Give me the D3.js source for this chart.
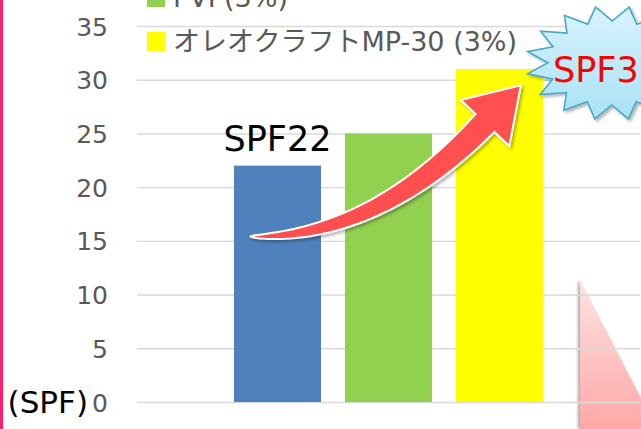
<!DOCTYPE html>
<html>
<head>
<meta charset="utf-8">
<script src="https://cdn.jsdelivr.net/npm/d3@7"></script>
<style>
  html, body { margin: 0; padding: 0; background: #ffffff; }
  svg { display: block; }
  text { font-family: "DejaVu Sans", "Noto Sans CJK JP", sans-serif; }
</style>
</head>
<body>
<div id="chart"></div>
<script>
// ---- data ----
const category = ["SPF"];
const series = ["ブランク", "PVP(3%)", "オレオクラフトMP-30 (3%)"];
const spfValues = [22, 25, 31];
const yTicks = [0, 5, 10, 15, 20, 25, 30, 35];

const barColors = ["#4f81bd", "#92d050", "#ffff00"];

const width = 641, height = 429;
const plot = { left: 137, right: 640, top: 26, bottom: 402 };

const svg = d3.select("#chart").append("svg")
    .attr("width", width)
    .attr("height", height);

const defs = svg.append("defs");

// soft shadows for the drawn shapes
const shadow = defs.append("filter").attr("id", "shadow")
    .attr("x", "-20%").attr("y", "-20%").attr("width", "140%").attr("height", "140%");
shadow.append("feDropShadow")
    .attr("dx", 2).attr("dy", 2).attr("stdDeviation", 1.8)
    .attr("flood-color", "#000").attr("flood-opacity", 0.3);

const leftShadow = defs.append("filter").attr("id", "leftShadow")
    .attr("x", "-30%").attr("y", "-10%").attr("width", "160%").attr("height", "120%");
leftShadow.append("feDropShadow")
    .attr("dx", -2).attr("dy", 0).attr("stdDeviation", 1.5)
    .attr("flood-color", "#000").attr("flood-opacity", 0.35);

const pinkGrad = defs.append("linearGradient").attr("id", "pinkGrad")
    .attr("x1", 0).attr("y1", 0).attr("x2", 0).attr("y2", 1);
pinkGrad.append("stop").attr("offset", "0%").attr("stop-color", "#ffe2e2");
pinkGrad.append("stop").attr("offset", "100%").attr("stop-color", "#ffa8a8");

const starGrad = defs.append("linearGradient").attr("id", "starGrad")
    .attr("x1", 0).attr("y1", 0).attr("x2", 0).attr("y2", 1);
starGrad.append("stop").attr("offset", "0%").attr("stop-color", "#d8f3fd");
starGrad.append("stop").attr("offset", "100%").attr("stop-color", "#a9e2f6");

// ---- scales ----
const y = d3.scaleLinear().domain([0, 35]).range([plot.bottom, plot.top]);

const x0 = d3.scaleBand().domain(category)
    .range([plot.left, plot.right])
    .paddingInner(0).paddingOuter(0.255);

const x1 = d3.scaleBand().domain(series)
    .range([x0(category[0]), x0(category[0]) + x0.bandwidth()])
    .paddingInner(0.216).paddingOuter(0.108);

// ---- pink wedge in the bottom right (behind the grid) ----
svg.append("path")
    .attr("d", "M580,280 L657,429 L580,429 Z")
    .attr("fill", "url(#pinkGrad)")
    .attr("filter", "url(#leftShadow)");

// ---- grid + y axis ----
const yAxis = d3.axisLeft(y)
    .tickValues(yTicks)
    .tickSize(-(plot.right - plot.left))
    .tickPadding(29);

const axisG = svg.append("g")
    .attr("transform", `translate(${plot.left},0)`)
    .call(yAxis);
axisG.select(".domain").remove();
axisG.selectAll(".tick line")
    .attr("stroke", "#d9d9d9")
    .attr("stroke-width", 1.4);
axisG.selectAll(".tick text")
    .attr("fill", "#595959")
    .style("font-size", "25px")
    .attr("dy", "0.36em");

// unit label next to zero
svg.append("text")
    .attr("x", 88)
    .attr("y", y(0))
    .attr("dy", "0.36em")
    .attr("text-anchor", "end")
    .attr("fill", "#000")
    .style("font-size", "31px")
    .text("(SPF)");

// ---- bars ----
const barData = series.map((s, i) => ({ name: s, value: spfValues[i], color: barColors[i] }));

svg.append("g").selectAll("rect")
    .data(barData)
    .join("rect")
    .attr("x", d => x1(d.name))
    .attr("y", d => y(d.value))
    .attr("width", x1.bandwidth())
    .attr("height", d => y(0) - y(d.value))
    .attr("fill", d => d.color);

// ---- legend (top entries run off the top edge) ----
const legendRowH = 44;
const legendG = svg.append("g").attr("transform", "translate(147,0)");
const legendItems = legendG.selectAll("g")
    .data(barData)
    .join("g")
    .attr("transform", (d, i) => `translate(0,${41.5 - (barData.length - 1 - i) * legendRowH})`);
legendItems.append("rect")
    .attr("x", 0).attr("y", -9.5)
    .attr("width", 18).attr("height", 19)
    .attr("fill", d => d.color);
legendItems.append("text")
    .attr("x", 26)
    .attr("dy", "0.36em")
    .attr("fill", "#595959")
    .style("font-size", "27px")
    .text(d => d.name);

// ---- SPF22 label over first bar ----
svg.append("text")
    .attr("x", x1(series[0]) + x1.bandwidth() / 2)
    .attr("y", y(spfValues[0]) - 15)
    .attr("text-anchor", "middle")
    .attr("fill", "#000")
    .style("font-size", "35px")
    .text("SPF" + spfValues[0]);

// ---- curved arrow from first bar up to the last ----
const p0 = [x1(series[0]) + 16, y(15.4)];
const p1 = [375, y(15.2)];
const pb = [485, 123];           // base of the arrow head
const bez = t => [
    (1 - t) * (1 - t) * p0[0] + 2 * (1 - t) * t * p1[0] + t * t * pb[0],
    (1 - t) * (1 - t) * p0[1] + 2 * (1 - t) * t * p1[1] + t * t * pb[1]
];
const tangent = t => {
    const dx = 2 * (1 - t) * (p1[0] - p0[0]) + 2 * t * (pb[0] - p1[0]);
    const dy = 2 * (1 - t) * (p1[1] - p0[1]) + 2 * t * (pb[1] - p1[1]);
    const len = Math.hypot(dx, dy);
    return [dx / len, dy / len];
};
const halfW = t => 13 * Math.pow(t, 0.6);

const upper = [], lower = [];
d3.range(0, 1.0001, 0.02).forEach(t => {
    const p = bez(t), d = tangent(t), n = [d[1], -d[0]];  // n points up-left
    const w = halfW(t);
    upper.push([p[0] + n[0] * w, p[1] + n[1] * w]);
    lower.push([p[0] - n[0] * w, p[1] - n[1] * w]);
});
const dEnd = tangent(1), nEnd = [dEnd[1], -dEnd[0]];
const headLen = 52, barb = 33.5;
const tip = [pb[0] + dEnd[0] * headLen, pb[1] + dEnd[1] * headLen];
const barbUp = [pb[0] + nEnd[0] * barb, pb[1] + nEnd[1] * barb];
const barbLo = [pb[0] - nEnd[0] * barb, pb[1] - nEnd[1] * barb];

const arrowPts = upper
    .concat([barbUp, tip, barbLo])
    .concat(lower.slice().reverse());

svg.append("path")
    .attr("d", d3.line()(arrowPts) + "Z")
    .attr("fill", "#ff5050")
    .attr("stroke", "#ffffff")
    .attr("stroke-width", 2)
    .attr("stroke-linejoin", "miter")
    .attr("filter", "url(#shadow)");

// ---- starburst with the SPF31 callout ----
const starC = [612, 63];
const spikes = 16;
const starPts = d3.range(spikes * 2).map(i => {
    const a = (169 + i * 180 / spikes) * Math.PI / 180;
    const outer = i % 2 === 0;
    const rx = outer ? 86 : 64, ry = outer ? 57 : 42;
    return [starC[0] + rx * Math.cos(a), starC[1] + ry * Math.sin(a)];
});
svg.append("path")
    .attr("d", d3.line()(starPts) + "Z")
    .attr("fill", "url(#starGrad)")
    .attr("stroke", "#4aa7c6")
    .attr("stroke-width", 1.6)
    .attr("stroke-linejoin", "miter")
    .attr("filter", "url(#shadow)");

svg.append("text")
    .attr("x", 553)
    .attr("y", 82)
    .attr("fill", "#ff0000")
    .style("font-size", "35px")
    .text("SPF" + spfValues[2]);

// ---- pink border on the left edge ----
svg.append("rect")
    .attr("x", 0).attr("y", 0)
    .attr("width", 3).attr("height", height)
    .attr("fill", "#ff1e6e");
</script>
</body>
</html>
